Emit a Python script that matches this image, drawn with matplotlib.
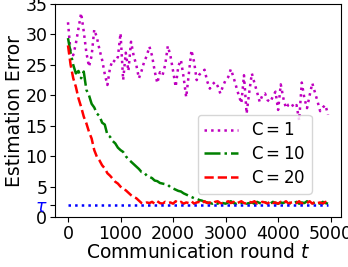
import numpy as np
import matplotlib
matplotlib.use("Agg")
import matplotlib.pyplot as plt

# communication rounds (every 50)
rounds = np.arange(0, 5000, 50)

err_c1 = [32.0, 27.0, 26.6, 28.5, 31.0, 33.5, 30.5, 27.0, 24.7, 26.5,
          30.8, 29.5, 27.5, 25.8, 23.5, 21.7, 24.5, 25.8, 25.5, 26.3,
          30.2, 22.5, 27.0, 24.0, 28.8, 26.5, 25.0, 22.8, 24.0, 25.5,
          26.5, 28.0, 26.5, 24.0, 22.0, 23.8, 23.3, 25.0, 28.1, 26.5,
          24.0, 21.4, 24.8, 25.8, 23.0, 19.7, 23.5, 27.4, 25.5, 22.5,
          23.4, 23.8, 24.2, 22.3, 21.1, 21.8, 22.2, 21.5, 20.3, 21.5,
          22.5, 23.0, 24.3, 23.0, 21.5, 20.0, 18.7, 23.3, 17.0, 20.5,
          23.6, 22.0, 20.5, 18.9, 20.0, 20.3, 19.2, 18.9, 19.8, 20.6,
          17.6, 21.8, 19.5, 17.9, 18.5, 18.7, 18.0, 18.4, 15.9, 22.1,
          19.5, 17.9, 20.0, 22.0, 20.5, 19.0, 17.4, 18.0, 18.4, 16.8]

err_c10 = [29.4, 27.0, 25.0, 23.6, 24.0, 22.8, 23.9, 20.9, 20.0, 18.6,
           18.0, 17.0, 16.6, 15.5, 15.2, 13.5, 13.2, 12.5, 12.1, 11.4,
           11.0, 10.7, 10.0, 9.5, 9.1, 8.7, 8.3, 7.9, 7.4, 7.3,
           6.8, 6.6, 6.4, 6.0, 5.9, 5.6, 5.5, 5.4, 5.3, 4.9,
           4.7, 4.5, 4.3, 4.2, 3.9, 3.7, 3.5, 3.3, 3.1, 3.0,
           2.8, 2.7, 2.5, 2.4, 2.3, 2.2, 2.4, 2.2, 2.5, 2.3,
           2.2, 2.4, 2.6, 2.3, 2.2, 2.4, 2.3, 2.5, 2.2, 2.3,
           2.4, 2.2, 2.5, 2.3, 2.2, 2.4, 2.3, 2.2, 2.5, 2.3,
           2.2, 2.4, 2.3, 2.6, 2.4, 2.2, 2.3, 2.5, 2.2, 2.4,
           2.3, 2.6, 2.3, 2.2, 2.4, 2.3, 2.2, 2.5, 2.3, 2.2]

err_c20 = [28.2, 25.0, 22.8, 21.4, 19.5, 18.1, 16.5, 15.4, 14.0, 12.9,
           11.0, 9.9, 9.3, 8.5, 8.0, 7.2, 6.8, 6.3, 5.8, 5.5,
           5.0, 4.6, 4.4, 4.0, 3.6, 3.3, 3.1, 2.7, 2.3, 2.2,
           2.4, 2.3, 2.5, 2.2, 2.6, 2.3, 2.2, 2.5, 2.3, 2.4,
           2.2, 2.6, 2.3, 2.5, 2.2, 2.4, 2.3, 2.6, 2.2, 2.4,
           2.5, 2.2, 2.6, 2.3, 2.4, 2.2, 2.5, 2.6, 2.3, 2.2,
           2.4, 2.6, 2.3, 2.5, 2.2, 2.4, 2.6, 2.3, 2.2, 2.5,
           2.4, 2.6, 2.2, 2.3, 2.5, 2.4, 2.2, 2.6, 2.3, 2.4,
           2.2, 2.5, 2.3, 2.6, 2.2, 2.4, 2.5, 2.3, 2.6, 2.2,
           2.4, 2.3, 2.6, 2.2, 2.5, 2.3, 2.4, 2.2, 2.5, 2.3]

tau = 2.0
yticks = [0, tau, 5, 10, 15, 20, 25, 30, 35]
ytick_labels = ["0", r"$\tau$", "5", "10", "15", "20", "25", "30", "35"]

fig = plt.figure(figsize=(3.48, 2.67), dpi=100)
ax = fig.add_axes([0.158, 0.187, 0.822, 0.798])

ax.plot(rounds, err_c1, color="m", linestyle=":", linewidth=1.8, label=r"$\mathrm{C}=1$")
ax.plot(rounds, err_c10, color="g", linestyle="-.", linewidth=1.8, label=r"$\mathrm{C}=10$")
ax.plot(rounds, err_c20, color="r", linestyle="--", linewidth=1.8, label=r"$\mathrm{C}=20$")
ax.plot(rounds, [tau] * len(rounds), color="b", linestyle=":", linewidth=1.8)

ax.set_ylim(0, 35)
ax.set_xticks([0, 1000, 2000, 3000, 4000, 5000])
ax.set_yticks(yticks)
ax.set_yticklabels(ytick_labels)
ax.get_yticklabels()[1].set_color("b")
ax.tick_params(labelsize=12.5, pad=2)

ax.set_xlabel(r"Communication round $t$", fontsize=13.5, labelpad=0)
ax.set_ylabel("Estimation Error", fontsize=13.5, labelpad=1)

ax.legend(loc="lower left", bbox_to_anchor=(0.47, 0.07), fontsize=12,
          handlelength=2.0, labelspacing=0.35, borderpad=0.4, handletextpad=0.8)

fig.savefig("out.png", dpi=100)
